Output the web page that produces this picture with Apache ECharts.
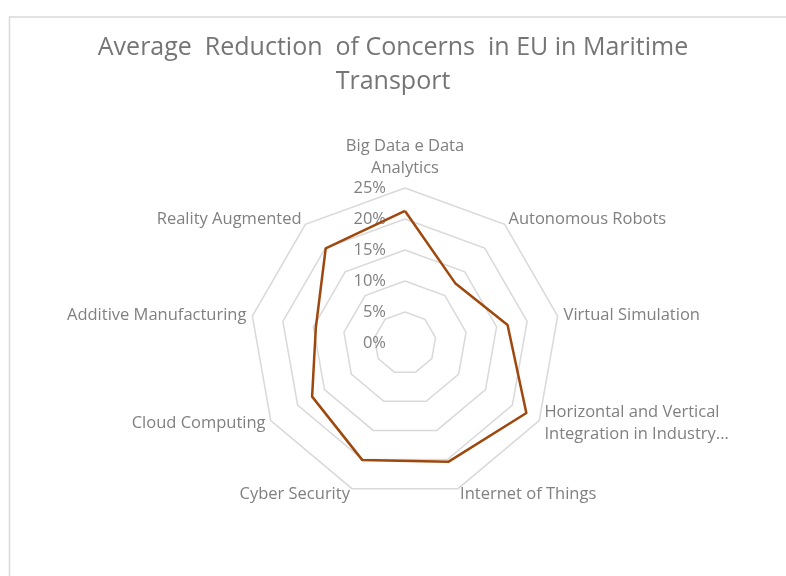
<!DOCTYPE html>
<html>
<head>
<meta charset="utf-8">
<style>
  html, body { margin: 0; padding: 0; background: #ffffff; }
  #chart { width: 786px; height: 576px; }
</style>
<script src="https://cdn.jsdelivr.net/npm/echarts@6/dist/echarts.min.js"></script>
</head>
<body>
<div id="chart"></div>
<script>
// Technology areas, listed clockwise from the top
const categories = [
  'Big Data e Data\nAnalytics',
  'Autonomous Robots',
  'Virtual Simulation',
  'Horizontal and Vertical\nIntegration in Industry...',
  'Internet of Things',
  'Cyber Security',
  'Cloud Computing',
  'Additive Manufacturing',
  'Reality Augmented'
];

// Average reduction of concerns (%)
const reductionValues = [21.3, 12.6, 16.8, 22.6, 20.4, 20.1, 17.3, 14.6, 19.9];

// Percentage scale
const scaleMin = 0;
const scaleMax = 25;
const scaleStep = 5;

// ECharts lays radar indicators counter-clockwise; keep the first one at the top
// and reverse the rest so the categories run clockwise.
const order = [0].concat(categories.map((_, i) => i).slice(1).reverse());

const FONT = '"Open Sans", "Noto Sans", sans-serif';

const indicators = order.map((idx, k) => {
  const ind = { name: categories[idx], min: scaleMin, max: scaleMax };
  if (k === 0) {
    ind.axisLabel = {
      show: true,
      color: '#808080',
      fontSize: 16.5,
      fontFamily: FONT,
      margin: 19,
      formatter: v => v + '%'
    };
  }
  return ind;
});

const chart = echarts.init(document.getElementById('chart'), null, { renderer: 'canvas' });

chart.setOption({
  backgroundColor: '#ffffff',
  animation: false,
  title: {
    text: 'Average  Reduction  of Concerns  in EU in Maritime\nTransport',
    left: 'center',
    top: 26,
    textStyle: {
      color: '#757575',
      fontSize: 25,
      fontWeight: 'normal',
      fontFamily: FONT,
      lineHeight: 34
    }
  },
  graphic: [{
    type: 'rect',
    shape: { x: 9.5, y: 17, width: 800, height: 600 },
    style: { fill: 'none', stroke: '#d9d9d9', lineWidth: 1.5 },
    silent: true,
    z: -1
  }],
  radar: {
    center: [405, 343],
    radius: 155,
    shape: 'polygon',
    splitNumber: (scaleMax - scaleMin) / scaleStep,
    startAngle: 90,
    indicator: indicators,
    nameGap: 6,
    axisName: {
      color: '#808080',
      fontSize: 16.5,
      fontFamily: FONT,
      lineHeight: 22
    },
    axisLine: { show: false },
    axisTick: { show: false },
    axisLabel: { show: false },
    splitArea: { show: false },
    splitLine: { lineStyle: { color: '#d9d9d9', width: 1.5 } }
  },
  series: [{
    type: 'radar',
    symbol: 'none',
    lineStyle: { color: '#9e480e', width: 2.5 },
    data: [{
      name: 'Average Reduction',
      value: order.map(idx => reductionValues[idx])
    }]
  }]
});
</script>
</body>
</html>
